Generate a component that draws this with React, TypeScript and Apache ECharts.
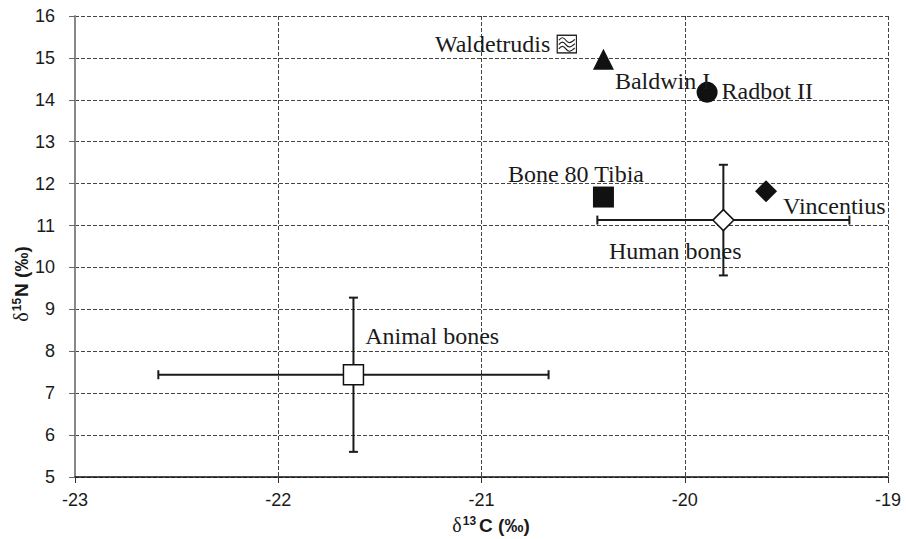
import React, { useEffect, useRef } from 'react';
import * as echarts from 'echarts';

// ---- data ----
const pointNames = ['Waldetrudis', 'Baldwin I', 'Radbot II', 'Bone 80 Tibia', 'Vincentius', 'Human bones', 'Animal bones'];
const d13C = [-20.58, -20.4, -19.89, -20.4, -19.6, -19.81, -21.63];
const d15N = [15.33, 14.97, 14.18, 11.68, 11.82, 11.13, 7.44];
const sdNames = ['Human bones', 'Animal bones'];
const sdC = [0.62, 0.96];
const sdN = [1.32, 1.84];
const xRange = [-23, -19];
const yRange = [5, 16];

const patternSvg =
  "<svg xmlns='http://www.w3.org/2000/svg' width='21' height='20' viewBox='0 0 21 20'>" +
  "<rect x='0.75' y='0.75' width='19.5' height='18.5' fill='white' stroke='#222' stroke-width='1.5'/>" +
  "<path d='M2.5 6 C5 2.5 7 2.5 9.5 6 S14 9.5 18.5 5' fill='none' stroke='#222' stroke-width='1.2'/>" +
  "<path d='M2.5 10.5 C5 7 7 7 9.5 10.5 S14 14 18.5 9.5' fill='none' stroke='#222' stroke-width='1.2'/>" +
  "<path d='M2.5 15 C5 11.5 7 11.5 9.5 15 S14 18.5 18.5 14' fill='none' stroke='#222' stroke-width='1.2'/>" +
  "</svg>";
const patternUri = 'image://data:image/svg+xml;charset=utf-8,' + encodeURIComponent(patternSvg);

const pointStyle: Record<string, any> = {
  'Waldetrudis': { symbol: patternUri, size: [21, 20], fill: '#fff', stroke: '#222', align: 'right', offset: [-16.5, 0] },
  'Baldwin I': { symbol: 'triangle', size: [21, 21], fill: '#111', align: 'left', offset: [11.5, 22] },
  'Radbot II': { symbol: 'circle', size: 21, fill: '#111', align: 'left', offset: [14.5, -1.5] },
  'Bone 80 Tibia': { symbol: 'rect', size: 21, fill: '#111', align: 'left', offset: [-95.5, -22.7] },
  'Vincentius': { symbol: 'diamond', size: 22, fill: '#111', align: 'left', offset: [17, 15] },
  'Human bones': { symbol: 'diamond', size: 21, fill: '#fff', stroke: '#111', align: 'left', offset: [-114.4, 30.5] },
  'Animal bones': { symbol: 'rect', size: 20, fill: '#fff', stroke: '#111', align: 'left', offset: [11.7, -38.7] },
};

const serif = "'Liberation Serif', 'Times New Roman', serif";
const sans = "'Liberation Sans', Arial, Helvetica, sans-serif";

export default function App() {
  const ref = useRef<HTMLDivElement>(null);
  useEffect(() => {
    if (!ref.current) return;
    const chart = echarts.init(ref.current, undefined, { renderer: 'svg' });

    const scatterData = pointNames.map((name, i) => {
      const s = pointStyle[name];
      return {
        name,
        value: [d13C[i], d15N[i]],
        symbol: s.symbol,
        symbolSize: s.size,
        itemStyle: {
          color: s.fill,
          opacity: 1,
          borderColor: s.stroke || s.fill,
          borderWidth: s.stroke ? 1.5 : 0,
        },
        label: {
          show: true,
          formatter: name,
          position: 'inside',
          align: s.align,
          verticalAlign: 'middle',
          offset: s.offset,
          color: '#1a1a1a',
          opacity: 1,
          fontFamily: serif,
          fontSize: 24,
        },
      };
    });

    const errData = sdNames.map((n, i) => {
      const k = pointNames.indexOf(n);
      return [d13C[k], d15N[k], sdC[i], sdN[i]];
    });

    const option: any = {
      animation: false,
      backgroundColor: '#fff',
      grid: { left: 75, right: 18, top: 16, bottom: 62, containLabel: false },
      xAxis: {
        type: 'value',
        min: xRange[0],
        max: xRange[1],
        interval: 1,
        axisLine: { show: true, lineStyle: { color: '#111', width: 1.5 } },
        axisTick: { show: true, inside: false, length: 6, lineStyle: { color: '#333' } },
        axisLabel: { margin: 14, color: '#1a1a1a', fontFamily: sans, fontSize: 18 },
        splitLine: { show: true, lineStyle: { color: '#444', type: [4, 2], width: 1 } },
      },
      yAxis: {
        type: 'value',
        min: yRange[0],
        max: yRange[1],
        interval: 1,
        axisLine: { show: true, onZero: false, lineStyle: { color: '#888', width: 2 } },
        axisTick: { show: true, inside: false, length: 6, lineStyle: { color: '#666' } },
        axisLabel: { margin: 20, color: '#1a1a1a', fontFamily: sans, fontSize: 18 },
        splitLine: { show: true, lineStyle: { color: '#444', type: [4, 2], width: 1 } },
      },
      graphic: [
        {
          type: 'text',
          x: 491,
          y: 525,
          style: {
            text: '{d|δ}{s|13}{b|C (‰)}',
            align: 'center',
            verticalAlign: 'middle',
            rich: {
              d: { fontFamily: serif, fontSize: 20, fill: '#1a1a1a' },
              s: { fontFamily: sans, fontSize: 12, fontWeight: 'bold', fill: '#1a1a1a', padding: [0, 3, 9, 1] },
              b: { fontFamily: sans, fontSize: 19, fontWeight: 'bold', fill: '#1a1a1a' },
            },
          },
        },
        {
          type: 'text',
          x: 21,
          y: 284,
          rotation: Math.PI / 2,
          style: {
            text: '{d|δ}{s|15}{b|N (‰)}',
            align: 'center',
            verticalAlign: 'middle',
            rich: {
              d: { fontFamily: serif, fontSize: 20, fill: '#1a1a1a' },
              s: { fontFamily: sans, fontSize: 12, fontWeight: 'bold', fill: '#1a1a1a', padding: [0, 1, 9, 1] },
              b: { fontFamily: sans, fontSize: 19, fontWeight: 'bold', fill: '#1a1a1a' },
            },
          },
        },
      ],
      series: [
        {
          type: 'custom',
          name: 'sd',
          z: 1,
          encode: { x: 0, y: 1 },
          data: errData,
          renderItem: (params: any, api: any) => {
            const x = api.value(0);
            const y = api.value(1);
            const ex = api.value(2);
            const ey = api.value(3);
            const c = api.coord([x, y]);
            const l = api.coord([x - ex, y]);
            const r = api.coord([x + ex, y]);
            const t = api.coord([x, y + ey]);
            const b = api.coord([x, y - ey]);
            const st = { stroke: '#1a1a1a', lineWidth: 2 };
            const cap = 4.5;
            return {
              type: 'group',
              children: [
                { type: 'line', shape: { x1: l[0], y1: c[1], x2: r[0], y2: c[1] }, style: st },
                { type: 'line', shape: { x1: l[0], y1: c[1] - cap, x2: l[0], y2: c[1] + cap }, style: st },
                { type: 'line', shape: { x1: r[0], y1: c[1] - cap, x2: r[0], y2: c[1] + cap }, style: st },
                { type: 'line', shape: { x1: c[0], y1: t[1], x2: c[0], y2: b[1] }, style: st },
                { type: 'line', shape: { x1: c[0] - cap, y1: t[1], x2: c[0] + cap, y2: t[1] }, style: st },
                { type: 'line', shape: { x1: c[0] - cap, y1: b[1], x2: c[0] + cap, y2: b[1] }, style: st },
              ],
            };
          },
        },
        {
          type: 'scatter',
          name: 'samples',
          z: 3,
          data: scatterData,
        },
      ],
    };
    chart.setOption(option);
    return () => chart.dispose();
  }, []);

  return (
    <div
      ref={ref}
      style={{ position: 'fixed', left: 0, top: 0, width: 906, height: 539, background: '#fff' }}
    />
  );
}
